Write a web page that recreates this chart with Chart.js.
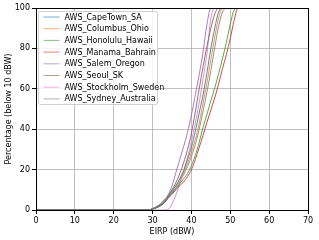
<!DOCTYPE html>
<html>
<head>
<meta charset="utf-8">
<script src="https://cdn.jsdelivr.net/npm/chart.js@4"></script>
<style>
  body { margin: 0; background: #fff; }
  #wrap { width: 319px; height: 240px; }
</style>
</head>
<body>
<div id="wrap"><canvas id="eirp-canvas" width="319" height="240"></canvas></div>
<script>
var eirp = [0, 29, 30, 31, 32, 33, 34, 35, 36, 37, 38, 39, 40, 41, 42, 43, 44, 45, 46, 47, 48, 49, 50, 51, 52, 53, 70];

var stations = ['AWS_CapeTown_SA', 'AWS_Columbus_Ohio', 'AWS_Honolulu_Hawaii', 'AWS_Manama_Bahrain',
                'AWS_Salem_Oregon', 'AWS_Seoul_SK', 'AWS_Stockholm_Sweden', 'AWS_Sydney_Australia'];

var capeTown  = [0, 0, 0.6, 1.3, 2.4, 4, 6.5, 9.5, 12, 15.5, 19.5, 25, 31, 39, 48, 57, 68, 80, 90, 98, 100, 100, 100, 100, 100, 100, 100];
var columbus  = [0, 0, 0.6, 1.3, 2.4, 4, 6.5, 9.5, 12, 15, 18.5, 23, 28.5, 35, 43, 53, 63, 74.5, 85.5, 95, 100, 100, 100, 100, 100, 100, 100];
var honolulu  = [0, 0, 0.5, 1.1, 2.1, 3.6, 6, 8.3, 10.5, 13, 15.5, 18, 22, 27, 33.5, 41, 47.5, 54, 60.5, 67.5, 75, 83, 92, 99, 100, 100, 100];
var manama    = [0, 0, 0.5, 1.1, 2, 3.5, 5.8, 7.8, 10, 12, 14, 16.5, 20, 25, 31, 37, 43.5, 49.5, 55.5, 62.5, 70, 77, 85, 94, 100, 100, 100];
var salem     = [0, 0, 0.7, 1.6, 3, 5, 7.5, 12, 18.5, 25, 31.5, 38.5, 47, 57, 67, 78.5, 92, 100, 100, 100, 100, 100, 100, 100, 100, 100, 100];
var seoul     = [0, 0, 0.7, 1.6, 2.9, 4.7, 7, 10, 13.5, 18, 23.5, 30, 38, 48.5, 60, 71, 81, 90, 97, 100, 100, 100, 100, 100, 100, 100, 100];
var stockholm = [0, 0, 0, 0, 0, 0, 0.3, 3, 7.5, 13, 19.5, 26, 34, 43, 53, 65, 77.5, 95, 100, 100, 100, 100, 100, 100, 100, 100, 100];
var sydney    = [0, 0, 0.6, 1.2, 2.2, 3.7, 6.2, 8.8, 11, 14, 17.5, 21.5, 26.5, 32.5, 40, 49, 58.5, 69, 80.5, 91, 98, 100, 100, 100, 100, 100, 100];

var xTicks = [0, 10, 20, 30, 40, 50, 60, 70];
var yTicks = [0, 20, 40, 60, 80, 100];

var series = [capeTown, columbus, honolulu, manama, salem, seoul, stockholm, sydney];
var colors = ['31,119,180', '255,127,14', '44,160,44', '214,39,40', '148,103,189', '140,86,75', '227,119,194', '127,127,127'];

var font = 'DejaVu Sans';

var datasets = series.map(function(vals, i) {
    return {
        label: stations[i],
        data: vals.map(function(v, j) { return { x: eirp[j], y: v }; }),
        borderColor: 'rgba(' + colors[i] + ',0.85)',
        borderWidth: 1,
        pointRadius: 0,
        fill: false,
        cubicInterpolationMode: 'monotone'
    };
});

// legend drawn inside the plot, top left, like matplotlib
var boxLegend = {
    id: 'boxLegend',
    afterDraw: function(chart) {
        var ctx = chart.ctx;
        var area = chart.chartArea;
        var x0 = area.left + 2.5, y0 = area.top + 3.5;
        var w = 119, h = 93;
        ctx.save();
        ctx.beginPath();
        ctx.roundRect(x0, y0, w, h, 2);
        ctx.fillStyle = 'rgba(255,255,255,0.85)';
        ctx.fill();
        ctx.strokeStyle = '#d0d0d0';
        ctx.lineWidth = 1;
        ctx.stroke();
        ctx.font = '8px "' + font + '"';
        ctx.textBaseline = 'middle';
        chart.data.datasets.forEach(function(ds, i) {
            var y = y0 + 5.5 + i * 11.7;
            ctx.strokeStyle = 'rgba(' + colors[i] + ',0.6)';
            ctx.lineWidth = 1;
            ctx.beginPath();
            ctx.moveTo(x0 + 5, y);
            ctx.lineTo(x0 + 21, y);
            ctx.stroke();
            ctx.fillStyle = '#000';
            ctx.fillText(ds.label, x0 + 26, y + 0.5);
        });
        ctx.restore();
    }
};

// top and right spines
var frame = {
    id: 'frame',
    afterDatasetsDraw: function(chart) {
        var a = chart.chartArea;
        var ctx = chart.ctx;
        ctx.save();
        ctx.strokeStyle = '#000';
        ctx.lineWidth = 1;
        ctx.strokeRect(a.left + 0.5, a.top + 0.5, a.right - a.left, a.bottom - a.top);
        ctx.restore();
    }
};

new Chart(document.getElementById('eirp-canvas').getContext('2d'), {
    type: 'line',
    data: { datasets: datasets },
    options: {
        responsive: false,
        animation: false,
        layout: { padding: { left: 0, right: 11, top: 8, bottom: 0 } },
        plugins: {
            legend: { display: false },
            tooltip: { enabled: false }
        },
        scales: {
            x: {
                type: 'linear',
                min: 0,
                max: 70,
                afterBuildTicks: function(scale) {
                    scale.ticks = xTicks.map(function(v) { return { value: v }; });
                },
                afterFit: function(scale) { scale.height = 30; },
                grid: { color: 'rgba(176,176,176,0.8)', lineWidth: 1, tickColor: '#000', tickLength: 4 },
                border: { color: '#000', width: 1 },
                ticks: { color: '#000', font: { family: font, size: 8 }, padding: 2, maxRotation: 0 },
                title: { display: true, text: 'EIRP (dBW)', color: '#000', font: { family: font, size: 8 }, padding: { top: 0, bottom: 3 } }
            },
            y: {
                min: 0,
                max: 100,
                afterBuildTicks: function(scale) {
                    scale.ticks = yTicks.map(function(v) { return { value: v }; });
                },
                afterFit: function(scale) { scale.width = 36; },
                grid: { color: 'rgba(176,176,176,0.8)', lineWidth: 1, tickColor: '#000', tickLength: 4 },
                border: { color: '#000', width: 1 },
                ticks: { color: '#000', font: { family: font, size: 8 }, padding: 2 },
                title: { display: true, text: 'Percentage (below 10 dBW)', color: '#000', font: { family: font, size: 8 }, padding: { top: 4, bottom: 2 } }
            }
        }
    },
    plugins: [frame, boxLegend]
});
</script>
</body>
</html>
